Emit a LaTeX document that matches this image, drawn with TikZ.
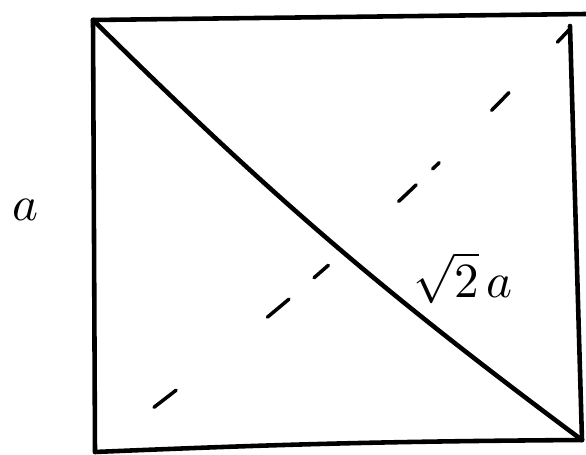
\documentclass[tikz,border=0pt]{standalone}
\begin{document}
\begin{tikzpicture}[x=0.02cm,y=-0.02cm,every node/.style={scale=2.8},
  side/.style={line width=2.6pt,line cap=round,line join=round},
  hidden/.style={line width=2pt,line cap=round,dash pattern=on 0mm off 14.8mm on 5.6mm off 23.4mm on 5.6mm off 6.6mm on 3.8mm off 19mm on 4.8mm off 4.6mm on 1.8mm off 14.8mm on 5mm off 14mm on 3.4mm off 6mm}]
  \useasboundingbox (0,0) rectangle (586,455);
  \coordinate (tl) at (93,20);
  \coordinate (topend) at (586,14);
  \coordinate (tr) at (583,15);
  \coordinate (rtop) at (570,26);
  \coordinate (br) at (582,440);
  \coordinate (bl) at (95,452);
  \draw[side] (tl) -- (topend);
  \draw[side] (tl) -- (bl);
  \draw[side] (rtop) -- (br);
  \draw[side] (bl) to[bend left=1] (br);
  \draw[side] (tl) to[bend right=4] (br);
  \draw[hidden] (bl) to[bend right=5] (tr);
  \node (side a) at (26,210) {$a$};
  \node (diag a) at (463,278) {$\sqrt{2}\,a$};
\end{tikzpicture}
\end{document}
